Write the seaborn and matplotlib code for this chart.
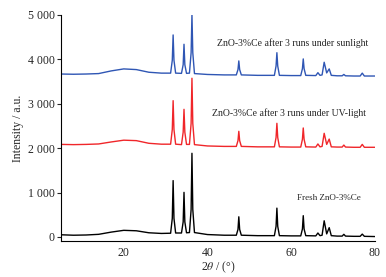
import numpy as np
import pandas as pd
from matplotlib import pyplot as plt
import seaborn as sns

# 2theta breakpoints (shared) and intensities
two_theta = [5, 8, 11, 14, 17, 20, 23, 26, 29,
             31.2, 31.6, 31.8, 32.0, 32.4,
             33.8, 34.2, 34.4, 34.6, 35.0,
             35.7, 36.1, 36.3, 36.5, 36.9,
             40, 44,
             46.9, 47.3, 47.5, 47.7, 48.1,
             52,
             56.0, 56.4, 56.6, 56.8, 57.2,
             60,
             62.3, 62.7, 62.9, 63.1, 63.5,
             65.9, 66.4, 66.9,
             67.4, 67.9, 68.5, 69.1, 69.6,
             71,
             72.2, 72.6, 73.0,
             75,
             76.5, 77.0, 77.5,
             80]

fresh = [50, 40, 45, 60, 110, 150, 140, 95, 80,
         85, 420, 1270, 420, 90,
         90, 340, 1005, 340, 95,
         100, 620, 1885, 620, 100,
         55, 40,
         40, 170, 455, 170, 40,
         30,
         30, 240, 650, 240, 30,
         25,
         25, 180, 480, 180, 30,
         25, 90, 30,
         40, 365, 70, 210, 30,
         20,
         20, 60, 20,
         15,
         15, 65, 15,
         10]

uv = [2085, 2080, 2085, 2095, 2140, 2180, 2170, 2110, 2090,
      2090, 2420, 3070, 2420, 2090,
      2080, 2360, 2875, 2360, 2085,
      2085, 2560, 3575, 2560, 2080,
      2050, 2040,
      2040, 2170, 2380, 2170, 2040,
      2030,
      2030, 2240, 2560, 2240, 2030,
      2025,
      2025, 2200, 2455, 2200, 2030,
      2025, 2095, 2030,
      2040, 2335, 2085, 2205, 2030,
      2025,
      2025, 2070, 2025,
      2020,
      2020, 2085, 2020,
      2020]

sunlight = [3670, 3665, 3670, 3680, 3740, 3785, 3770, 3710, 3690,
            3690, 3980, 4550, 3980, 3690,
            3685, 3880, 4340, 3880, 3685,
            3690, 4150, 5005, 4150, 3680,
            3660, 3650,
            3650, 3770, 3965, 3770, 3650,
            3640,
            3640, 3850, 4150, 3850, 3640,
            3635,
            3635, 3790, 4010, 3790, 3640,
            3635, 3700, 3640,
            3650, 3935, 3695, 3785, 3640,
            3630,
            3630, 3660, 3630,
            3625,
            3625, 3690, 3625,
            3625]

labels = ["Fresh ZnO-3%Ce",
          "ZnO-3%Ce after 3 runs under UV-light",
          "ZnO-3%Ce after 3 runs under sunlight"]

df = pd.DataFrame({"two_theta": two_theta, "fresh": fresh,
                   "uv": uv, "sunlight": sunlight})

sns.set_style("ticks")
plt.rcParams["font.family"] = ["Liberation Serif", "DejaVu Serif"]
plt.rcParams["mathtext.fontset"] = "stix"

fig = plt.figure(figsize=(3.86, 2.77), dpi=100)
ax = fig.add_axes([0.158, 0.130, 0.813, 0.816])

for col, color in [("fresh", "black"), ("uv", "#f0262a"), ("sunlight", "#2f56b4")]:
  sns.lineplot(data=df, x="two_theta", y=col, color=color, lw=1.0, ax=ax)

ax.text(42.2, 4370, labels[2], fontsize=7, va="center")
ax.text(41.2, 2800, labels[1], fontsize=7, va="center")
ax.text(61.4, 872, labels[0], fontsize=6.5, va="center")

ax.set_xlim(5, 80)
ax.set_ylim(-90, 5000)
ax.set_xticks([20, 40, 60, 80])
ax.set_yticks(np.arange(0, 5001, 1000))
ax.set_yticklabels([f"{v:,}".replace(",", " ") for v in range(0, 5001, 1000)])
ax.tick_params(axis="x", length=0, labelsize=8.5, pad=4)
ax.tick_params(axis="y", length=3, width=0.8, labelsize=8.5, pad=1.5)
ax.set_xlabel(r"2$\theta$ / (°)", fontsize=8.5, labelpad=1)
ax.set_ylabel("Intensity / a.u.", fontsize=8.5, labelpad=3)
sns.despine(ax=ax)
for s in ["left", "bottom"]:
  ax.spines[s].set_linewidth(0.8)
  ax.spines[s].set_color("black")

fig.savefig("out.png", dpi=100)
